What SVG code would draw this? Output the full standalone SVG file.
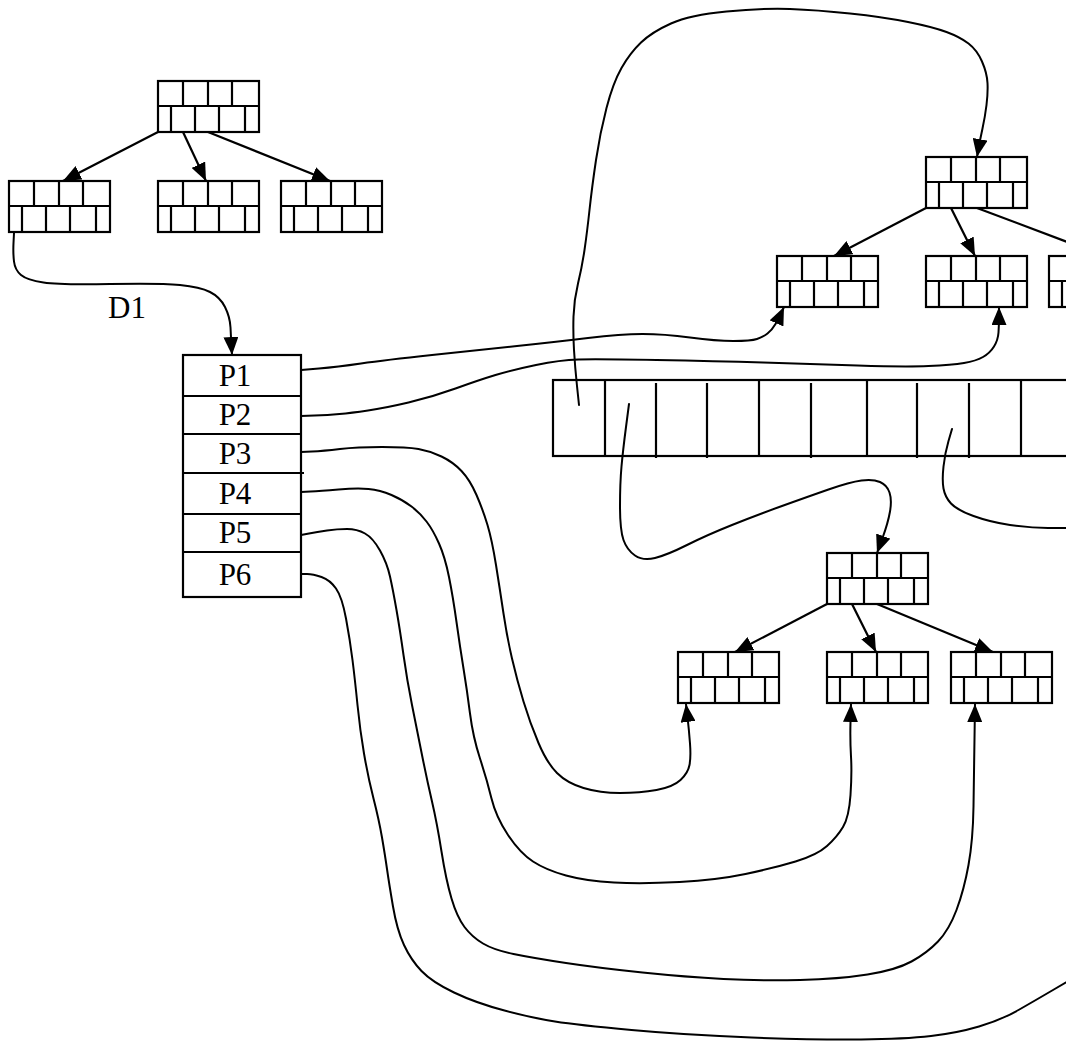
<svg xmlns="http://www.w3.org/2000/svg" xmlns:xlink="http://www.w3.org/1999/xlink" width="1066" height="1043" viewBox="0 0 1066 1043">
<style>
.box{fill:none;stroke:#000;stroke-width:2.2}
.ln{fill:none;stroke:#000;stroke-width:2.2}
.cv{fill:none;stroke:#000;stroke-width:2;stroke-linejoin:round;stroke-linecap:round}
.ar{marker-end:url(#ah)}
.lbl{font-family:"Liberation Serif","Times New Roman",serif;font-size:31px;fill:#000}
</style>
<defs>
<marker id="ah" markerWidth="18" markerHeight="15" refX="18" refY="7.5" orient="auto" markerUnits="userSpaceOnUse"><path d="M0,0 L18,7.5 L0,15 z" fill="#000"/></marker>
<g id="brick">
<rect class="box" x="0" y="0" width="101" height="51"/>
<path class="ln" d="M0,25 H101 M25,0 V25 M50,0 V25 M74,0 V25 M13,25 V51 M37,25 V51 M61,25 V51 M87,25 V51"/>
</g>
</defs>
<rect width="1066" height="1043" fill="#fff"/>

<g id="connectors">
<path class="ln ar" d="M158,132 L63,181"/>
<path class="ln ar" d="M183,132 L206,181"/>
<path class="ln ar" d="M208,132 L330,181"/>
<path class="ln ar" d="M926,208 L834,256"/>
<path class="ln ar" d="M951,208 L975,256"/>
<path class="ln" d="M977,208 L1070,243"/>
<path class="ln ar" d="M827,604 L735,652"/>
<path class="ln ar" d="M852,604 L876,652"/>
<path class="ln ar" d="M877,604 L993,652"/>
<path class="cv ar" d="M14,233 L13.5,243 Q13,253 14,261.5 Q15,270 21,275 Q27,280 43.5,282.5 Q60,285 110,284 Q160,283 180,285 Q200,287 210,292 Q220,297 225,307 Q230,317 230.5,327.5 Q231,338 231.5,346.5 L232,355"/>
<path class="cv ar" d="M301,370 L319,368.5 Q337,367 361,363.5 Q385,360 432,355 Q479,350 517,346 Q555,342 588,338 Q621,334 642.5,334 Q664,334 690,337.5 Q716,341 733.5,341 Q751,341 757,339 Q763,337 767.5,333.5 Q772,330 775.5,324 Q779,318 781.5,312.5 L784,307"/>
<path class="cv ar" d="M301,416 L314.5,415.5 Q328,415 339.5,414 Q351,413 368,410.5 Q385,408 408.5,402.5 Q432,397 455.5,388.5 Q479,380 495.5,375 Q512,370 536,365 Q560,360 578.5,359.5 Q597,359 656.5,360 Q716,361 763,362.5 Q810,364 857.5,365.5 Q905,367 928.5,366 Q952,365 964,363 Q976,361 983,357 Q990,353 994,346.5 Q998,340 998.5,332.5 Q999,325 999,316 L999,307"/>
<path class="cv ar" d="M579,405 L577,386 Q575,367 574,350 Q573,333 573.5,316.5 Q574,300 578,283.5 Q582,267 584.5,250 Q587,233 589.5,210 Q592,187 596,160 Q600,133 606.5,108 Q613,83 621.5,68 Q630,53 641,42.5 Q652,32 671,23.5 Q690,15 726.5,11.5 Q763,8 790,9 Q817,10 850,13.5 Q883,17 908,22 Q933,27 946.5,32 Q960,37 968.5,43.5 Q977,50 982,61.5 Q987,73 987.5,83 Q988,93 986.5,105 Q985,117 982.5,128.5 Q980,140 978.5,148.5 L977,157"/>
<path class="cv ar" d="M629,404 L626,427 Q623,450 621.5,466.5 Q620,483 620,506.5 Q620,530 623.5,540 Q627,550 635,555.5 Q643,561 655,558 Q667,555 687,545 Q707,535 732,525 Q757,515 782,506 Q807,497 828.5,489.5 Q850,482 861.5,480.5 Q873,479 880,482 Q887,485 889.5,492.5 Q892,500 890,511.5 Q888,523 882.5,538 L877,553"/>
<path class="cv" d="M952,429 L948.5,441 Q945,453 943.5,466.5 Q942,480 943.5,488.5 Q945,497 951,503.5 Q957,510 973.5,516 Q990,522 1010,525 Q1030,528 1048,528 L1070,528"/>
<path class="cv ar" d="M301,452 L312,451.5 Q323,451 340,449 Q357,447 382,447 Q407,447 418.5,449 Q430,451 441.5,456.5 Q453,462 461.5,471 Q470,480 476.5,495 Q483,510 487.5,525 Q492,540 496,565 Q500,590 503.5,613.5 Q507,637 512,658.5 Q517,680 523.5,701.5 Q530,723 538.5,743 Q547,763 557,773 Q567,783 583.5,788 Q600,793 620,793 Q640,793 656.5,790 Q673,787 680.5,780 Q688,773 689.5,765 Q691,757 690,743.5 Q689,730 687.5,717 L686,704"/>
<path class="cv ar" d="M301,492 L310.5,491.5 Q320,491 338.5,489.5 Q357,488 368.5,489 Q380,490 391.5,495 Q403,500 411.5,506.5 Q420,513 426.5,521.5 Q433,530 439,543.5 Q445,557 449,577 Q453,597 456.5,622 Q460,647 463.5,668.5 Q467,690 470,713.5 Q473,737 480,758.5 Q487,780 491.5,798.5 Q496,817 508,835 Q520,853 533,861.5 Q546,870 566,875.5 Q586,881 614,882.5 Q642,884 679.5,882 Q717,880 745.5,874 Q774,868 795.5,861.5 Q817,855 827,846 Q837,837 843,827 Q849,817 850.5,795 Q852,773 851,756.5 Q850,740 850.5,722 L851,704"/>
<path class="cv ar" d="M301,535 L309,533.5 Q317,532 327,530.5 Q337,529 347,529 Q357,529 365,533.5 Q373,538 380,550.5 Q387,563 390,576.5 Q393,590 396.5,610 Q400,630 403.5,655 Q407,680 412,705 Q417,730 422,755 Q427,780 432,801.5 Q437,823 441.5,851.5 Q446,880 451.5,898.5 Q457,917 464.5,927 Q472,937 483,943.5 Q494,950 513.5,954 Q533,958 566,963 Q599,968 642.5,972.5 Q686,977 723.5,979 Q761,981 800,980 Q839,979 867.5,974.5 Q896,970 911.5,961.5 Q927,953 938,941.5 Q949,930 956.5,910 Q964,890 968.5,865 Q973,840 973.5,806.5 Q974,773 974.5,738.5 L975,704"/>
<path class="cv" d="M301,574 L307,574 Q313,574 321.5,577 Q330,580 336,588.5 Q342,597 346,618.5 Q350,640 352.5,660 Q355,680 357.5,705 Q360,730 364,753.5 Q368,777 373.5,798.5 Q379,820 382,837.5 Q385,855 387,869 Q389,883 393,906.5 Q397,930 404,945 Q411,960 421.5,971 Q432,982 454,992.5 Q476,1003 504.5,1010.5 Q533,1018 555,1021.5 Q577,1025 631.5,1030 Q686,1035 751.5,1037.5 Q817,1040 861,1039.5 Q905,1039 931,1036 Q957,1033 979,1026.5 Q1001,1020 1018.5,1010 Q1036,1000 1053,990 L1070,980"/>
</g>

<g id="tl-root" transform="translate(158,81)"><use xlink:href="#brick"/></g>
<g id="tl-left" transform="translate(9,181)"><use xlink:href="#brick"/></g>
<g id="tl-mid" transform="translate(158,181)"><use xlink:href="#brick"/></g>
<g id="tl-right" transform="translate(281,181)"><use xlink:href="#brick"/></g>

<g id="tr-root" transform="translate(926,157)"><use xlink:href="#brick"/></g>
<g id="tr-left" transform="translate(777,256)"><use xlink:href="#brick"/></g>
<g id="tr-mid" transform="translate(926,256)"><use xlink:href="#brick"/></g>
<g id="tr-right" transform="translate(1049,256)"><use xlink:href="#brick"/></g>

<g id="lo-root" transform="translate(827,553)"><use xlink:href="#brick"/></g>
<g id="lo-left" transform="translate(678,652)"><use xlink:href="#brick"/></g>
<g id="lo-mid" transform="translate(827,652)"><use xlink:href="#brick"/></g>
<g id="lo-right" transform="translate(951,652)"><use xlink:href="#brick"/></g>

<g id="bar">
<rect class="box" x="553" y="380" width="530" height="76"/>
<path class="ln" d="M605,380 V456 M656,383 V458 M707,383 V458 M759,380 V456 M811,383 V458 M867,380 V456 M917,383 V458 M969,383 V458 M1021,380 V456"/>
</g>

<g id="ptable">
<rect class="box" x="183" y="355" width="118" height="242"/>
<path class="ln" d="M183,396 H301 M183,434 H301 M183,473 H304 M183,514 H301 M183,552 H301"/>
<text class="lbl" x="235" y="386" text-anchor="middle">P1</text>
<text class="lbl" x="235" y="425" text-anchor="middle">P2</text>
<text class="lbl" x="235" y="464" text-anchor="middle">P3</text>
<text class="lbl" x="235" y="504" text-anchor="middle">P4</text>
<text class="lbl" x="235" y="543" text-anchor="middle">P5</text>
<text class="lbl" x="235" y="585" text-anchor="middle">P6</text>
</g>

<text id="d1" class="lbl" x="108" y="318">D1</text>
</svg>
